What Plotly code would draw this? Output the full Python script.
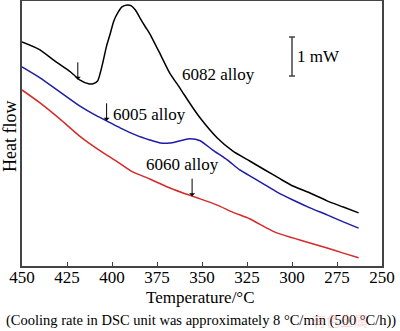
import plotly.graph_objects as go

# DSC cooling curves, temperature in degC, heat flow in mW (curves offset vertically)
temp_6082 = [450, 440, 432, 423, 418, 413, 410.5, 408, 406.5, 405, 403, 401, 399, 396.5,
             394.5, 391.5, 389.5, 387, 384.5, 381.5, 379, 373, 368, 362, 356.5, 351,
             341.5, 333, 323.5, 315, 306.5, 299.5, 290, 280.5, 271.5, 263]
flow_6082 = [5.74, 5.54, 5.26, 4.97, 4.77, 4.67, 4.67, 4.74, 4.95, 5.23, 5.64, 5.95, 6.28, 6.51,
             6.64, 6.69, 6.67, 6.56, 6.36, 6.13, 5.95, 5.41, 4.95, 4.54, 4.15, 3.79,
             3.28, 2.95, 2.69, 2.46, 2.23, 2.05, 1.87, 1.67, 1.51, 1.36]

temp_6005 = [450, 440, 429, 418, 409.5, 403, 395.5, 387, 379, 373, 368, 362, 356.5, 351,
             344, 336, 329, 321.5, 315, 308.5, 299.5, 290, 280.5, 271.5, 263]
flow_6005 = [5.10, 4.82, 4.46, 4.10, 3.87, 3.72, 3.54, 3.36, 3.23, 3.15, 3.15, 3.21, 3.26, 3.21,
             2.97, 2.72, 2.46, 2.26, 2.08, 1.90, 1.69, 1.49, 1.31, 1.13, 0.97]

temp_6060 = [450, 440, 429, 418, 406.5, 397, 388.5, 379, 369.5, 360.5, 355.5, 351, 341.5,
             333, 323.5, 314, 308.5, 299.5, 290, 280.5, 271.5, 263]
flow_6060 = [4.51, 4.18, 3.77, 3.33, 2.95, 2.67, 2.41, 2.23, 2.03, 1.87, 1.79, 1.72, 1.56,
             1.38, 1.21, 0.97, 0.85, 0.72, 0.59, 0.46, 0.33, 0.21]

# Arrows marking the onset of precipitation on each curve
arrow_temps = [419, 403, 355.5]
arrow_flows = [4.77, 3.72, 1.79]

# Curve labels
label_texts = ["6082 alloy", "6005 alloy", "6060 alloy"]
label_temps = [341, 379, 361]
label_flows = [4.90, 3.87, 2.59]

# 1 mW scale bar
scale_temp = 300
scale_mid = 5.37
scale_len = 1.0

x_ticks = [450, 425, 400, 375, 350, 325, 300, 275, 250]

FONT = "Liberation Serif, Times New Roman, serif"
AXIS_COLOR = "#444444"

fig = go.Figure()
for t, f, c in [(temp_6082, flow_6082, "#000000"),
                (temp_6005, flow_6005, "#1c1ca8"),
                (temp_6060, flow_6060, "#d62a2a")]:
    fig.add_trace(go.Scatter(x=t, y=f, mode="lines",
                             line=dict(color=c, width=1.5, shape="spline", smoothing=0.6),
                             showlegend=False, hoverinfo="skip"))

# scale bar drawn as an error bar with caps
fig.add_trace(go.Scatter(x=[scale_temp], y=[scale_mid], mode="markers",
                         marker=dict(size=1, color="rgba(0,0,0,0)"),
                         error_y=dict(type="data", array=[scale_len / 2], visible=True,
                                      color=AXIS_COLOR, thickness=1.5, width=3),
                         showlegend=False, hoverinfo="skip"))

annotations = []
for t, f in zip(arrow_temps, arrow_flows):
    annotations.append(dict(x=t, y=f, xref="x", yref="y", text="", showarrow=True,
                            ax=0, ay=-19, arrowhead=1, arrowsize=1, arrowwidth=1,
                            arrowcolor="#000000", standoff=0))
for s, t, f in zip(label_texts, label_temps, label_flows):
    annotations.append(dict(x=t, y=f, xref="x", yref="y", text=s, showarrow=False,
                            font=dict(family=FONT, size=17, color="#000000")))
annotations.append(dict(x=scale_temp, y=scale_mid, xref="x", yref="y", text="1 mW",
                        showarrow=False, xanchor="left", xshift=3,
                        font=dict(family=FONT, size=17, color="#000000")))
annotations.append(dict(x=-0.033, y=0.487, xref="paper", yref="paper", text="Heat flow",
                        textangle=-90, showarrow=False, xanchor="center", yanchor="middle",
                        font=dict(family=FONT, size=18, color="#000000")))
annotations.append(dict(x=0.497, y=-0.117, xref="paper", yref="paper", text="Temperature/°C",
                        showarrow=False, xanchor="center", yanchor="middle",
                        font=dict(family=FONT, size=17, color="#000000")))
annotations.append(dict(x=0.497, y=-0.204, xref="paper", yref="paper",
                        text="(Cooling rate in DSC unit was approximately 8 °C/min (500 °C/h))",
                        showarrow=False, xanchor="center", yanchor="middle",
                        font=dict(family=FONT, size=14.5, color="#000000")))
annotations.append(dict(x=0.883, y=-0.204, xref="paper", yref="paper", text="有色金属",
                        showarrow=False, xanchor="center", yanchor="middle",
                        font=dict(family="Noto Sans CJK SC", size=14,
                                  color="rgba(235,140,140,0.35)")))

fig.update_layout(
    width=400, height=331,
    margin=dict(l=22, r=18, t=1, b=65, autoexpand=False),
    paper_bgcolor="white", plot_bgcolor="white",
    font=dict(family=FONT, size=17, color="#000000"),
    annotations=annotations,
    xaxis=dict(range=[450, 250], tickvals=x_ticks, ticks="inside", ticklen=4,
               tickcolor=AXIS_COLOR, tickwidth=1, showline=True, linecolor=AXIS_COLOR,
               linewidth=1.5, mirror=True, showgrid=False, zeroline=False, automargin=False,
               ticklabelstandoff=-5, tickfont=dict(family=FONT, size=17)),
    yaxis=dict(range=[0, 6.79], showticklabels=False, ticks="", showline=True,
               linecolor=AXIS_COLOR, linewidth=1.5, mirror=True, showgrid=False,
               zeroline=False, automargin=False),
)

fig.write_html("out.html")
